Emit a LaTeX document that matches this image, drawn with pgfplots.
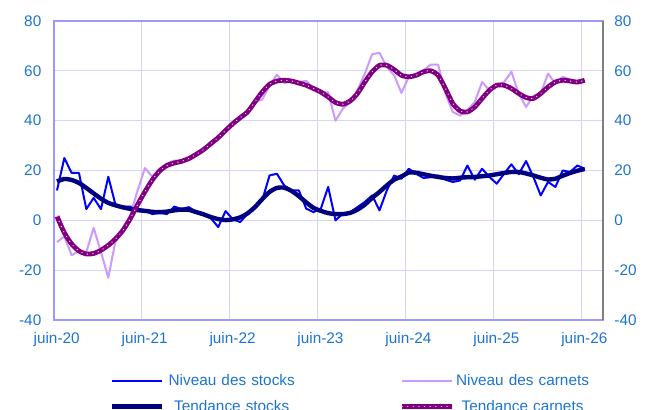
\documentclass[border=0pt]{standalone}
\usepackage{pgfplots}
\pgfplotsset{compat=1.18}
\usepackage{pgfplotstable}
\usepackage{fontspec}
\setmainfont{Liberation Sans}

\definecolor{stockraw}{HTML}{0000FF}
\definecolor{stocktr}{HTML}{000080}
\definecolor{carnraw}{HTML}{CC99FF}
\definecolor{carntr}{HTML}{800080}
\definecolor{gridc}{HTML}{D4D4FF}
\definecolor{axc}{HTML}{9999FF}
\definecolor{lblc}{HTML}{1C74D0}

% months from June 2020; sr/st = stocks level/trend, cr/ct = order books level/trend
\pgfplotstableread{
m   sr    st    cr    ct
0   12    15.6  -8.7  1.6
1   25    16.6  -6.5  -5.0
2   19    16.2  -14   -9.5
3   19    15.0  -12.3 -12.3
4   4.5   13.0  -12.8 -13.5
5   9     10.8  -3    -13.3
6   4.5   8.7   -12.7 -12.0
7   17.5  7.0   -23   -10.0
8   6     6.0   -8    -7.4
9   5.5   5.2   -3    -4.0
10  5.5   4.6   2     0.7
11  4.5   4.1   12    6.3
12  4     3.8   21    11.5
13  2.5   3.4   17.5  16.2
14  3     3.3   20.7  19.8
15  2.5   3.5   22.8  22.0
16  5.5   4.0   24    23.0
17  4.5   4.3   24    23.7
18  5.3   4.2   25    24.8
19  3.3   3.3   26.5  26.5
20  2.4   2.4   28.4  28.4
21  0.8   1.3   31    30.8
22  -2.7  0.5   33    33.2
23  3.7   0.1   36    36.1
24  0.4   0.4   39    38.8
25  -0.7  1.2   41    41.2
26  2.7   2.8   43    43.5
27  5.3   5.3   47.5  47.5
28  8     8.5   48.5  51.5
29  18    11.4  54    54.6
30  18.7  13.0  58.5  55.9
31  14    13.1  55    56.2
32  12    11.8  56    55.9
33  12    9.7   55.5  55.1
34  4.7   7.2   56    54.2
35  3.3   5.0   53    52.9
36  4.7   3.8   51.5  51.5
37  13.4  2.9   51.3  49.5
38  0     2.5   40    47.3
39  2.7   2.5   44.8  46.6
40  3.3   3.0   47.5  47.9
41  5.3   4.3   52.2  50.9
42  7.4   6.3   58.9  55.5
43  10    9.0   66.7  59.6
44  4     11.4  67.2  62.2
45  12    14.0  61.6  62.2
46  18    16.3  58.2  60.5
47  16.7  17.6  51.1  58.2
48  20.7  19.2  57.6  57.6
49  18.7  19.1  58.2  58.2
50  17    18.5  60.2  59.6
51  17.3  17.9  62.5  60.0
52  18    17.4  62.5  58.2
53  16.3  17.0  50.9  52.9
54  15.4  16.8  43.5  46.9
55  16    17.1  42    43.9
56  22    17.3  44.2  43.5
57  16.3  17.4  47.5  45.5
58  20.7  17.7  55.5  48.9
59  17.4  18.0  52.2  52.2
60  14.7  18.5  54.2  54.2
61  18.7  19.0  55.5  54.2
62  22.5  19.4  59.6  52.9
63  18.5  19.4  50.9  50.9
64  23.8  18.8  45.5  49.3
65  17.4  18.0  50    48.9
66  10    17.1  50.9  50.9
67  15.4  16.4  58.9  53.5
68  13.4  16.7  54.9  55.5
69  20    17.9  57.6  56.2
70  19.4  19.0  56.6  55.9
71  22    19.9  55.1  55.5
72  20.7  20.6  56.2  56.2
}\data

\begin{document}
\begin{tikzpicture}
\path[use as bounding box] (0,0) rectangle (484.5pt,307.5pt);

\pgfplotsset{
  common/.style={
    scale only axis,
    at={(40.5pt,67.5pt)}, anchor=south west,
    width=411.75pt, height=224.25pt,
    xmin=-0.41, xmax=74.5, ymin=-40, ymax=80,
    ytick={-40,-20,...,80},
    major tick length=0pt,
    tick label style={font=\fontsize{11.5}{13}\selectfont, text=lblc},
    /pgf/number format/assume math mode=true,
  },
}

\begin{axis}[
  common,
  xtick={-0.41,11.59,23.59,35.59,47.59,59.59,71.59},
  xticklabels={juin-20,juin-21,juin-22,juin-23,juin-24,juin-25,juin-26},
  xticklabel style={yshift=-5.5pt, xshift=2pt},
  yticklabel style={xshift=-6pt},
  grid=major,
  major grid style={gridc, line width=0.75pt},
  axis line style={axc, line width=1.6pt},
  legend columns=2,
  legend cell align=left,
  legend style={
    at={(0.093,-0.163)}, anchor=north west,
    draw=none, fill=none,
    font=\fontsize{11.5}{13}\selectfont, text=lblc,
    row sep=5.5pt,
    nodes={text width=100pt, align=center, inner xsep=1pt, inner ysep=2pt},
    /tikz/every even column/.append style={column sep=75pt},
  },
  legend image code/.code={\draw[#1] (0pt,0pt) -- (37.5pt,0pt);},
]
\addplot[stockraw, line width=1.5pt, line join=round] table[x=m, y=sr] {\data};
\addlegendentry{Niveau des stocks}
\addplot[carnraw, line width=1.5pt, line join=round] table[x=m, y=cr] {\data};
\addlegendentry{Niveau des carnets}
\addplot[stocktr, line width=3.3pt, line join=round, smooth, tension=0.4] table[x=m, y=st] {\data};
\addlegendentry{Tendance stocks}
\addplot[carntr, line width=3.6pt, line join=round, smooth, tension=0.4,
  postaction={draw=white!80!carntr, line width=1.1pt, line cap=round,
              dash pattern=on 0.01pt off 4.2pt}] table[x=m, y=ct] {\data};
\addlegendentry{Tendance carnets}
\end{axis}

\begin{axis}[
  common,
  axis x line=none,
  axis y line*=right,
  y axis line style={-, gray, line width=1.6pt},
  yticklabel style={xshift=5pt},
]
\end{axis}
\end{tikzpicture}
\end{document}
